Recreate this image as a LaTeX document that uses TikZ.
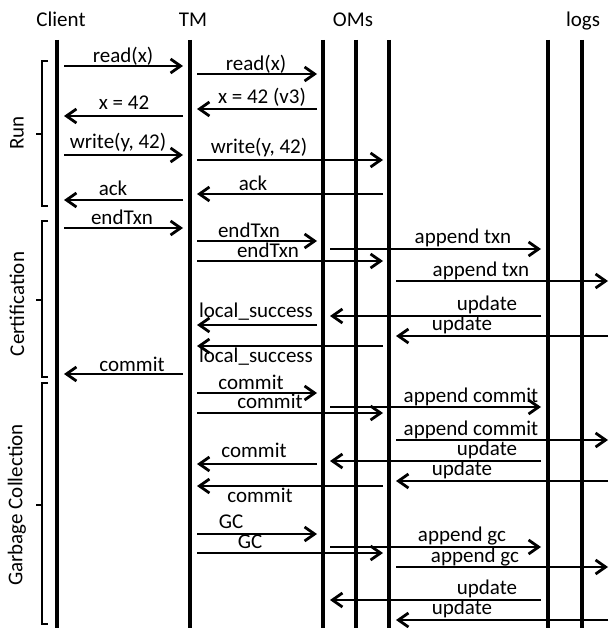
\documentclass[tikz,border=0pt]{standalone}
\usepackage{fontspec}
\setmainfont{Carlito}
\usetikzlibrary{arrows.meta}
\newcommand\msgline[7]{%
  \draw[msg] (#1,#3) -- (#2,#3);
  \node[lbl] (#7) at (#5,#6) {#4};}
\begin{document}
\begin{tikzpicture}[x=1pt,y=-1pt,
  life/.style={line width=3.2pt},
  msg/.style={line width=2.8pt,-{Straight Barb[length=10pt,width=14pt,line width=2.8pt]}},
  lbl/.style={anchor=base,inner sep=0pt,font=\fontsize{21}{25}\selectfont},
  brk/.style={line width=2.6pt}]
\useasboundingbox (0,0) rectangle (611,628);
% lifelines
\draw[life] (57,40) coordinate (clientT) -- (57,628) coordinate (clientB);
\draw[life] (190,40) coordinate (tmT) -- (190,628) coordinate (tmB);
\draw[life] (323,40) coordinate (omaT) -- (323,628) coordinate (omaB);
\draw[life] (356,40) coordinate (ombT) -- (356,628) coordinate (ombB);
\draw[life] (389,40) coordinate (omcT) -- (389,628) coordinate (omcB);
\draw[life] (548,40) coordinate (logaT) -- (548,628) coordinate (logaB);
\draw[life] (582,40) coordinate (logbT) -- (582,628) coordinate (logbB);
% headers
\node[lbl] (hClient) at (61,27) {Client};
\node[lbl] (hTM) at (193,27) {TM};
\node[lbl] (hOM) at (353,27) {OMs};
\node[lbl] (hLog) at (583,27) {logs};
% brackets
\draw[brk] (48,61) -- (42,61) -- (42,206) -- (48,206);
\draw[brk] (42,134) -- (36,134);
\draw[brk] (48,221) -- (42,221) -- (42,377) -- (48,377);
\draw[brk] (42,300) -- (36,300);
\draw[brk] (48,383) -- (42,383) -- (42,624) -- (48,624);
\draw[brk] (42,505) -- (36,505);
\node[lbl,anchor=center,rotate=90] (pRun) at (17,133) {Run};
\node[lbl,anchor=center,rotate=90] (pCert) at (17,304) {Certification};
\node[lbl,anchor=center,rotate=90] (pGC) at (17,505) {Garbage Collection};
% client <-> TM
\msgline{64}{183}{66}{read(x)}{123}{63}{m1}
\msgline{183}{64}{116}{x = 42}{124}{110}{m2}
\msgline{64}{183}{155}{write(y, 42)}{118}{149}{m3}
\msgline{183}{64}{200}{ack}{113}{196}{m4}
\msgline{64}{183}{228}{endTxn}{122}{224}{m5}
\msgline{183}{64}{374}{commit}{132}{371}{m6}
% TM <-> OMs
\msgline{197}{317}{74}{read(x)}{256}{71}{t1}
\msgline{317}{197}{109}{x = 42 (v3)}{262}{104}{t2}
\msgline{197}{383}{160}{write(y, 42)}{259}{154}{t3}
\msgline{383}{197}{194}{ack}{253}{191}{t4}
\msgline{197}{317}{241}{endTxn}{249}{237}{t5}
\msgline{197}{383}{261}{endTxn}{268}{257}{t6}
\msgline{317}{197}{325}{local\_success}{256}{317}{t7}
\msgline{383}{197}{346}{local\_success}{256}{362}{t8}
\msgline{197}{317}{393}{commit}{251}{389}{t9}
\msgline{197}{383}{413}{commit}{270}{408}{t10}
\msgline{317}{197}{464}{commit}{254}{457}{t11}
\msgline{383}{197}{486}{commit}{260}{502}{t12}
\msgline{197}{317}{534}{GC}{231}{528}{t13}
\msgline{197}{383}{553}{GC}{250}{548}{t14}
% OMs <-> logs
\msgline{330}{541}{249}{append txn}{463}{243}{l1}
\msgline{396}{608}{281}{append txn}{481}{276}{l2}
\msgline{541}{330}{316}{update}{487}{310}{l3}
\msgline{608}{396}{336}{update}{462}{330}{l4}
\msgline{330}{541}{407}{append commit}{471}{402}{l5}
\msgline{396}{608}{440}{append commit}{471}{435}{l6}
\msgline{541}{330}{461}{update}{487}{455}{l7}
\msgline{608}{396}{481}{update}{462}{475}{l8}
\msgline{330}{541}{547}{append gc}{462}{541}{l9}
\msgline{396}{608}{567}{append gc}{475}{562}{l10}
\msgline{541}{330}{600}{update}{487}{594}{l11}
\msgline{608}{396}{620}{update}{462}{614}{l12}
\end{tikzpicture}
\end{document}
